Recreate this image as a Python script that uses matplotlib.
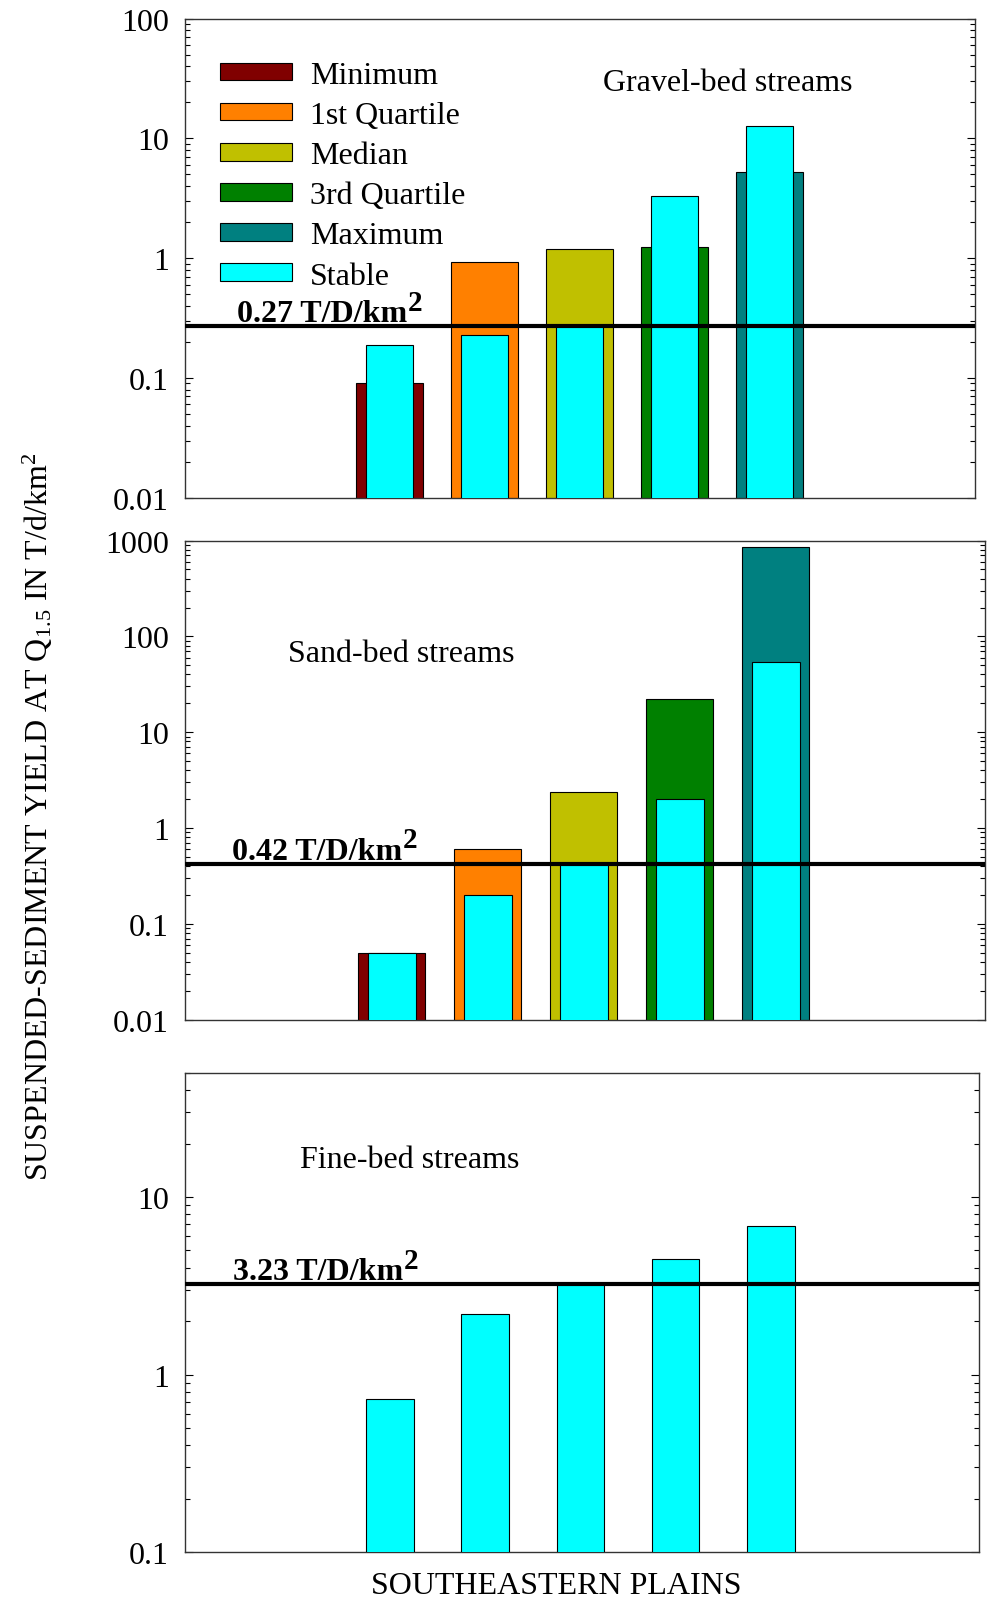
import matplotlib
matplotlib.use('Agg')
import matplotlib.pyplot as plt
from matplotlib.patches import Patch
from matplotlib.ticker import LogLocator, NullFormatter, FixedLocator, FixedFormatter

plt.rcParams['font.family'] = 'Liberation Serif'
plt.rcParams['mathtext.fontset'] = 'custom'
plt.rcParams['mathtext.rm'] = 'Liberation Serif'
plt.rcParams['mathtext.it'] = 'Liberation Serif:italic'
plt.rcParams['mathtext.bf'] = 'Liberation Serif:bold'

# Datos (T/d/km2)
estadisticos = ['Minimum', '1st Quartile', 'Median', '3rd Quartile', 'Maximum']
colores = ['#800000', '#ff8000', '#c0c000', '#008000', '#008080']
color_estable = '#00ffff'

grava_total = [0.09, 0.92, 1.2, 1.25, 5.2]
grava_estable = [0.19, 0.23, 0.27, 3.3, 12.6]
grava_umbral = 0.27

arena_total = [0.05, 0.61, 2.4, 22, 860]
arena_estable = [0.05, 0.20, 0.42, 2.0, 54]
arena_umbral = 0.42

fino_estable = [0.73, 2.2, 3.23, 4.5, 6.9]
fino_umbral = 3.23

posiciones = list(range(len(estadisticos)))
TAM = 23


def panel(ax, total, estable, umbral, ylim, ticks, etiquetas, xmax, titulo, pos_titulo, pos_umbral):
    '''Dibuja un panel con las barras totales, las estables y la linea del umbral.'''
    ax.set_yscale('log')
    if total is not None:
        ax.bar(posiciones, total, width=0.7, color=colores, edgecolor='black', linewidth=0.8, zorder=2)
    ax.bar(posiciones, estable, width=0.5, color=color_estable, edgecolor='black', linewidth=0.8, zorder=3)
    ax.axhline(umbral, color='black', lw=3, zorder=4)
    texto = ax.annotate('%.2f T/D/km' % umbral, xy=(pos_umbral, umbral),
                        xycoords=('axes fraction', 'data'), xytext=(0, 4), textcoords='offset points',
                        fontsize=TAM, fontweight='bold', ha='left', va='baseline', zorder=5)
    # el exponente va aparte porque en la figura es casi del mismo tamano
    ax.annotate('2', xy=(1, 0), xycoords=texto, xytext=(0.5, 13), textcoords='offset points',
                fontsize=21, fontweight='bold', ha='left', va='baseline', zorder=5)
    ax.text(pos_titulo[0], pos_titulo[1], titulo, transform=ax.transAxes, fontsize=TAM,
            ha='left', va='center')
    ax.set_ylim(*ylim)
    ax.set_xlim(-2.15, xmax)
    ax.set_xticks([])
    ax.yaxis.set_major_locator(FixedLocator(ticks))
    ax.yaxis.set_major_formatter(FixedFormatter(etiquetas))
    ax.yaxis.set_minor_locator(LogLocator(base=10, subs=range(2, 10), numticks=20))
    ax.yaxis.set_minor_formatter(NullFormatter())
    ax.tick_params(axis='y', which='both', direction='in', left=True, right=True,
                   labelsize=TAM, pad=12, width=0.8)
    ax.tick_params(axis='y', which='major', length=6)
    ax.tick_params(axis='y', which='minor', length=3.5)
    for s in ax.spines.values():
        s.set_color('#333333')
        s.set_linewidth(1.0)


fig = plt.figure(figsize=(9.88, 16.06), dpi=100)
ax1 = fig.add_axes([0.1876, 0.6895, 0.7990, 0.2983])
ax2 = fig.add_axes([0.1876, 0.3645, 0.8093, 0.2983])
ax3 = fig.add_axes([0.1876, 0.0330, 0.8031, 0.2983])

panel(ax1, grava_total, grava_estable, grava_umbral, (0.01, 100),
      [0.01, 0.1, 1, 10, 100], ['0.01', '0.1', '1', '10', '100'], 6.16,
      'Gravel-bed streams', (0.529, 0.866), 0.065)
panel(ax2, arena_total, arena_estable, arena_umbral, (0.01, 1000),
      [0.01, 0.1, 1, 10, 100, 1000], ['0.01', '0.1', '1', '10', '100', '1000'], 6.18,
      'Sand-bed streams', (0.129, 0.764), 0.058)
panel(ax3, None, fino_estable, fino_umbral, (0.1, 50),
      [0.1, 1, 10], ['0.1', '1', '10'], 6.185,
      'Fine-bed streams', (0.1445, 0.819), 0.060)

manijas = [Patch(facecolor=c, edgecolor='black', linewidth=0.8) for c in colores]
manijas.append(Patch(facecolor=color_estable, edgecolor='black', linewidth=0.8))
ax1.legend(manijas, estadisticos + ['Stable'], loc='upper left', bbox_to_anchor=(0.044, 0.912),
           frameon=False, fontsize=TAM, handlelength=2.26, handleheight=0.47,
           labelspacing=0.35, handletextpad=0.56, borderaxespad=0, borderpad=0)

ax3.set_xlabel('SOUTHEASTERN PLAINS', fontsize=TAM)
ax3.xaxis.set_label_coords(0.467, -0.04)

fig.text(0.038, 0.4916, 'SUSPENDED-SEDIMENT YIELD AT Q$_{1.5}$ IN T/d/km$^2$',
         rotation=90, fontsize=TAM, ha='center', va='center')

fig.savefig('out.png', dpi=100)
